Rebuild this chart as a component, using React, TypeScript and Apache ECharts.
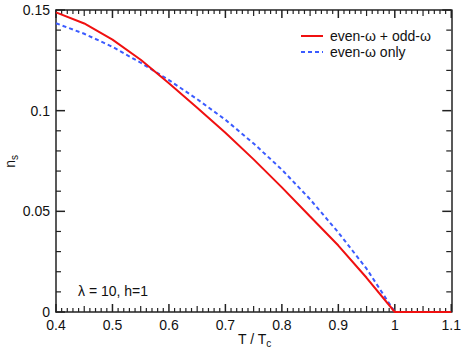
import React, { useEffect, useRef } from "react";
import * as echarts from "echarts";

const tRed = [0.4, 0.45, 0.5, 0.55, 0.6, 0.65, 0.7, 0.75, 0.8, 0.85, 0.9, 0.95, 1.0, 1.05, 1.1];
const nRed = [0.1488, 0.1433, 0.1353, 0.1253, 0.1136, 0.1015, 0.089, 0.0758, 0.0619, 0.0474, 0.033, 0.017, 0, 0, 0];
const tBlue = [0.4, 0.45, 0.5, 0.55, 0.6, 0.65, 0.7, 0.75, 0.8, 0.85, 0.9, 0.95, 1.0, 1.01];
const nBlue = [0.1434, 0.1382, 0.1317, 0.1238, 0.1152, 0.1057, 0.0955, 0.0837, 0.0707, 0.056, 0.0395, 0.0215, 0, 0];
const seriesNames = ["even-ω + odd-ω", "even-ω only"];
const annotation = "λ = 10, h=1";

// axis tick values
const xMajorTicks = [0.4, 0.5, 0.6, 0.7, 0.8, 0.9, 1.0, 1.1];
const xMidTicks = [0.45, 0.55, 0.65, 0.75, 0.85, 0.95, 1.05];
const yMajorTicks = [0, 0.05, 0.1, 0.15];
const yMinorTicks = [0.01, 0.02, 0.03, 0.04, 0.06, 0.07, 0.08, 0.09, 0.11, 0.12, 0.13, 0.14];

const FONT = "Liberation Sans, Arial, sans-serif";
const AX = "#222";
const RED = "#f01010";
const BLUE = "#3b5bff";

const txt: React.CSSProperties = {
  position: "absolute",
  fontFamily: FONT,
  fontSize: 14,
  lineHeight: "16px",
  color: "#111",
  whiteSpace: "nowrap",
};
const sub: React.CSSProperties = { fontSize: 10, verticalAlign: "-3px" };

export default function App() {
  const ref = useRef<HTMLDivElement>(null);
  useEffect(() => {
    const chart = echarts.init(ref.current!, null, { renderer: "svg" });

    // tick marks: [x, y, length, axis(0 = x, 1 = y)]
    const xMinorTicks: number[] = [];
    for (let k = 40; k <= 110; k++) if (k % 5 !== 0) xMinorTicks.push(k / 100);
    const tickData: number[][] = [
      ...xMajorTicks.map((v) => [v, 0, 8, 0]),
      ...xMidTicks.map((v) => [v, 0, 6, 0]),
      ...xMinorTicks.map((v) => [v, 0, 4, 0]),
      ...yMajorTicks.map((v) => [0.4, v, 9, 1]),
      ...yMinorTicks.map((v) => [0.4, v, 5, 1]),
    ];

    const X = (pos: string, labels: boolean) => ({
      type: "value",
      position: pos,
      min: 0.4,
      max: 1.1,
      interval: 0.1,
      axisLine: { show: true, onZero: false, lineStyle: { color: AX, width: 1.5 } },
      axisTick: { show: false },
      minorTick: { show: false },
      splitLine: { show: false },
      axisLabel: { show: labels, color: "#111", fontSize: 14, fontFamily: FONT, margin: 6 },
    });
    const Y = (pos: string, labels: boolean) => ({
      type: "value",
      position: pos,
      min: 0,
      max: 0.15,
      interval: 0.05,
      axisLine: { show: true, onZero: false, lineStyle: { color: AX, width: 1.5 } },
      axisTick: { show: false },
      minorTick: { show: false },
      splitLine: { show: false },
      axisLabel: { show: labels, color: "#111", fontSize: 14, fontFamily: FONT, margin: 6 },
    });

    chart.setOption({
      animation: false,
      grid: { left: 56, right: 10, top: 10, bottom: 43 },
      xAxis: [X("bottom", true), X("top", false)],
      yAxis: [Y("left", true), Y("right", false)],
      series: [
        {
          type: "custom",
          silent: true,
          clip: false,
          z: 1,
          dimensions: ["x", "y", "len", "axis"],
          encode: { x: 0, y: 1 },
          data: tickData,
          renderItem: (params: any, api: any) => {
            const cs = params.coordSys;
            const len = api.value(2);
            const flag = api.value(3);
            const w = len >= 8 ? 1.5 : 1.2;
            const mk = (x1: number, y1: number, x2: number, y2: number) => ({
              type: "line",
              shape: { x1, y1, x2, y2 },
              style: { stroke: AX, lineWidth: w },
            });
            if (flag === 0) {
              const px = api.coord([api.value(0), 0])[0];
              const yb = cs.y + cs.height;
              const yt = cs.y;
              return { type: "group", children: [mk(px, yb, px, yb - len), mk(px, yt, px, yt + len)] };
            }
            const py = api.coord([0.4, api.value(1)])[1];
            const xl = cs.x;
            const xr = cs.x + cs.width;
            return { type: "group", children: [mk(xl, py, xl + len, py), mk(xr, py, xr - len, py)] };
          },
        },
        {
          name: seriesNames[1],
          type: "line",
          showSymbol: false,
          symbol: "none",
          z: 2,
          data: tBlue.map((t, i) => [t, nBlue[i]]),
          lineStyle: { color: BLUE, width: 2, type: [4, 3] },
          itemStyle: { color: BLUE },
        },
        {
          name: seriesNames[0],
          type: "line",
          showSymbol: false,
          symbol: "none",
          z: 3,
          data: tRed.map((t, i) => [t, nRed[i]]),
          lineStyle: { color: RED, width: 2 },
          itemStyle: { color: RED },
        },
      ],
    });
    return () => chart.dispose();
  }, []);
  return (
    <div style={{ position: "absolute", left: 0, top: 0, width: 464, height: 355, background: "#fff" }}>
      <div ref={ref} style={{ position: "absolute", left: 0, top: 0, width: 464, height: 355 }} />
      <div style={{ ...txt, left: 78, top: 283 }}>{annotation}</div>
      <div style={{ ...txt, left: 238, top: 331 }}>
        T / T<span style={sub}>c</span>
      </div>
      <div
        style={{
          ...txt,
          left: 2,
          top: 140,
          width: 16,
          height: 28,
          writingMode: "sideways-lr" as any,
          textAlign: "start",
        }}
      >
        n<span style={sub}>s</span>
      </div>
      <div style={{ position: "absolute", left: 301, top: 35, width: 22, height: 2, background: RED }} />
      <div style={{ ...txt, left: 330, top: 28 }}>{seriesNames[0]}</div>
      <div
        style={{
          position: "absolute",
          left: 301,
          top: 51,
          width: 22,
          height: 2,
          background: `repeating-linear-gradient(to right, ${BLUE} 0px, ${BLUE} 4px, transparent 4px, transparent 7px)`,
        }}
      />
      <div style={{ ...txt, left: 330, top: 44 }}>{seriesNames[1]}</div>
    </div>
  );
}
